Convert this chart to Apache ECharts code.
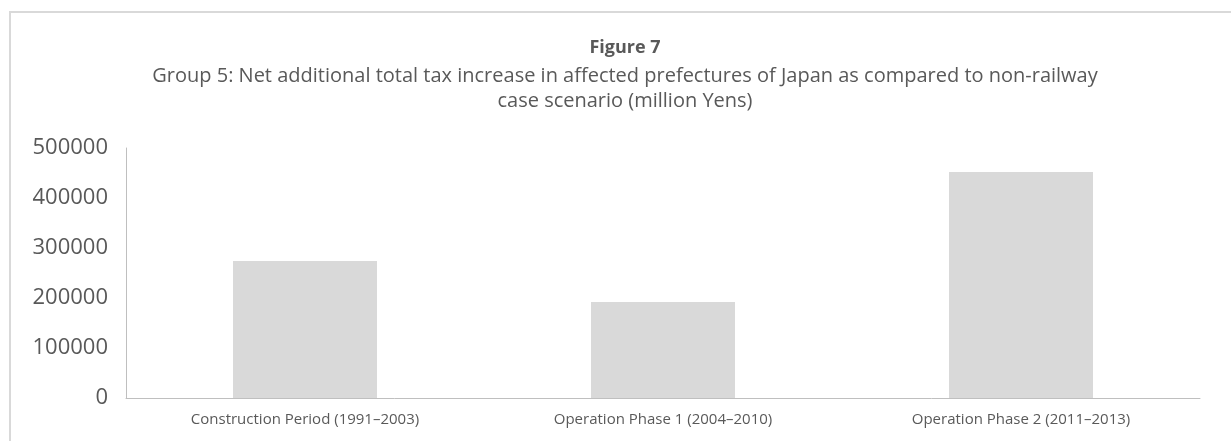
<!DOCTYPE html>
<html>
<head>
<meta charset="utf-8">
<style>
  html, body { margin: 0; padding: 0; background: #fff; }
  #chart { width: 1231px; height: 441px; }
</style>
<script src="https://cdn.jsdelivr.net/npm/echarts@6/dist/echarts.min.js"></script>
</head>
<body>
<div id="chart"></div>
<script>
// Net additional total tax increase per period (million Yens)
const categories = [
  'Construction Period (1991\u20132003)',
  'Operation Phase 1 (2004\u20132010)',
  'Operation Phase 2 (2011\u20132013)'
];
const taxIncrease = [274000, 192000, 452000];
const yTicks = [0, 100000, 200000, 300000, 400000, 500000];

const textColor = '#595959';
const fontFamily = '"Open Sans", Lato, sans-serif';

const chart = echarts.init(document.getElementById('chart'), null, { renderer: 'canvas' });

chart.setOption({
  animation: false,
  backgroundColor: '#ffffff',
  textStyle: { fontFamily: fontFamily },
  title: [
    {
      text: 'Figure 7',
      left: 620,
      top: 34,
      textAlign: 'center',
      textStyle: { fontSize: 18, fontWeight: 'bold', color: textColor, fontFamily: fontFamily }
    },
    {
      text: 'Group 5: Net additional total tax increase in affected prefectures of Japan as compared to non-railway\ncase scenario (million Yens)',
      left: 620,
      top: 59,
      textAlign: 'center',
      textStyle: { fontSize: 20, fontWeight: 'normal', color: textColor, lineHeight: 25, fontFamily: fontFamily }
    }
  ],
  graphic: [
    {
      type: 'rect',
      silent: true,
      shape: { x: 10, y: 12, width: 1400, height: 600 },
      style: { fill: 'none', stroke: '#d9d9d9', lineWidth: 2 }
    }
  ],
  grid: {
    left: 126,
    right: 31,
    top: 148,
    bottom: 43,
    outerBoundsMode: 'none'
  },
  xAxis: {
    type: 'category',
    data: categories,
    axisLine: { show: true, lineStyle: { color: '#bfbfbf', width: 1 } },
    axisTick: { show: false },
    axisLabel: { color: textColor, fontSize: 15, margin: 14, fontFamily: fontFamily, interval: 0 },
    splitLine: { show: false }
  },
  yAxis: {
    type: 'value',
    min: yTicks[0],
    max: yTicks[yTicks.length - 1],
    interval: yTicks[1] - yTicks[0],
    axisLine: { show: true, lineStyle: { color: '#bfbfbf', width: 1 } },
    axisTick: { show: false },
    splitLine: { show: false },
    axisLabel: {
      color: textColor,
      fontSize: 22,
      margin: 18,
      fontFamily: fontFamily,
      formatter: (v) => String(v)
    }
  },
  series: [
    {
      type: 'bar',
      data: taxIncrease,
      barWidth: 144,
      itemStyle: { color: '#d9d9d9' }
    }
  ]
});
</script>
</body>
</html>
